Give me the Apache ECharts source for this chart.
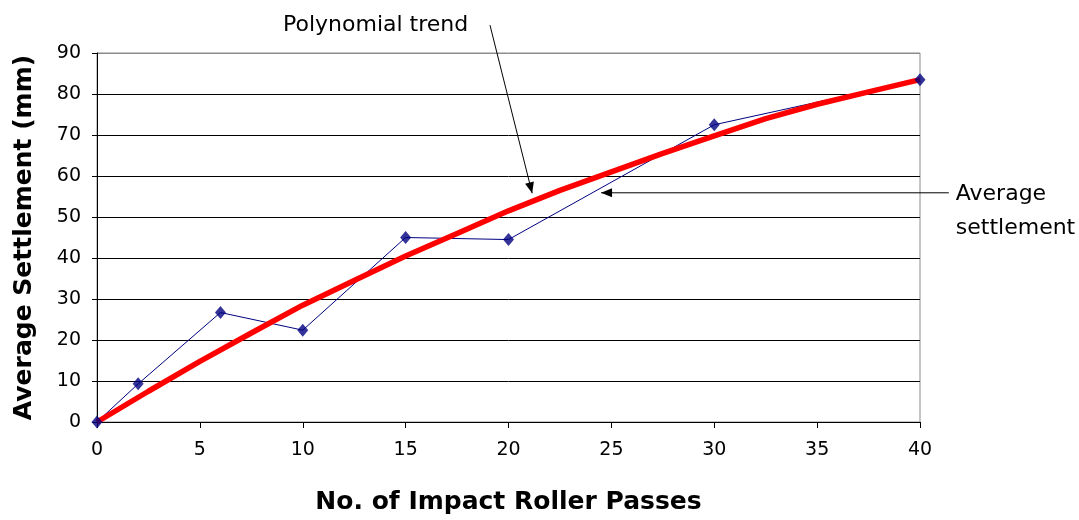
<!DOCTYPE html>
<html><head><meta charset="utf-8">
<script src="https://cdn.jsdelivr.net/npm/echarts@6/dist/echarts.min.js"></script>
<style>html,body{margin:0;padding:0;background:#fff}#c{width:1079px;height:520px}</style>
</head><body><div id="c"></div>
<script>
// Measured data
const passes = [0, 2, 6, 10, 15, 20, 30, 40];
const avgSettlement = [0, 9.3, 26.7, 22.4, 45, 44.5, 72.5, 83.5];
// Polynomial trend
const trendPasses = [0, 2.5, 5, 7.5, 10, 12.5, 15, 17.5, 20, 22.5, 25, 27.5, 30, 32.5, 35, 37.5, 40];
const trendSettlement = [0, 7.5, 14.8, 21.7, 28.5, 34.5, 40.5, 46, 51.5, 56.5, 61, 65.5, 69.8, 74, 77.5, 80.5, 83.5];
// Annotation texts
const polyLabel = "Polynomial trend";
const avgLabel = ["Average", "settlement"];

const FONT = "DejaVu Sans";
const chart = echarts.init(document.getElementById('c'), null, {renderer: 'canvas'});

const measured = passes.map((p, i) => [p, avgSettlement[i]]);
const trend = trendPasses.map((p, i) => [p, trendSettlement[i]]);

chart.setOption({
  animation: false,
  backgroundColor: '#fff',
  grid: {left: 97, right: 159, top: 53, bottom: 98, show: true, borderColor: '#8c8c8c', borderWidth: 1, backgroundColor: 'transparent'},
  xAxis: {
    type: 'value', min: 0, max: 40, interval: 5,
    name: 'No. of Impact Roller Passes', nameLocation: 'middle', nameGap: 68,
    nameTextStyle: {fontFamily: FONT, fontWeight: 'bold', fontSize: 25, color: '#000'},
    axisLine: {show: true, onZero: false, lineStyle: {color: '#000', width: 1}},
    axisTick: {show: true, length: 6, lineStyle: {color: '#000'}},
    axisLabel: {fontFamily: FONT, fontSize: 19, color: '#000', margin: 19},
    splitLine: {show: false}
  },
  yAxis: {
    type: 'value', min: 0, max: 90, interval: 10,
    name: 'Average Settlement (mm)', nameLocation: 'middle', nameGap: 60, nameRotate: 90,
    nameTextStyle: {fontFamily: FONT, fontWeight: 'bold', fontSize: 25, color: '#000'},
    axisLine: {show: true, onZero: false, lineStyle: {color: '#000', width: 1}},
    axisTick: {show: true, length: 5, lineStyle: {color: '#000'}},
    axisLabel: {fontFamily: FONT, fontSize: 19, color: '#000', margin: 16},
    splitLine: {show: true, lineStyle: {color: ['#000','#000','#000','#000','#000','#000','#000','#000','#000','#8c8c8c'], width: 1}}
  },
  series: [
    {type: 'line', data: measured, symbol: 'none', z: 2,
     lineStyle: {color: '#000080', width: 1}},
    {type: 'line', data: trend, symbol: 'none', z: 3,
     lineStyle: {color: '#ff0000', width: 5.5}},
    {type: 'scatter', data: measured, symbol: 'diamond', symbolSize: [11, 13], z: 4,
     itemStyle: {color: '#000080'}}
  ]
});

function px(x, y) { return chart.convertToPixel({gridIndex: 0}, [x, y]); }
const pStart = px(19.1, 96.8), pTip = px(21.15, 55.8);
const aStart = px(41.4, 55.9), aTip = px(24.5, 55.9);
function arrowHead(from, to, len, half) {
  const dx = to[0] - from[0], dy = to[1] - from[1];
  const L = Math.hypot(dx, dy), ux = dx / L, uy = dy / L;
  const bx = to[0] - ux * len, by = to[1] - uy * len;
  return [[to[0], to[1]], [bx - uy * half, by + ux * half], [bx + uy * half, by - ux * half]];
}
chart.setOption({
  graphic: [
    {type: 'line', shape: {x1: pStart[0], y1: pStart[1], x2: pTip[0], y2: pTip[1]}, style: {stroke: '#000', lineWidth: 1}, z: 10},
    {type: 'polygon', shape: {points: arrowHead(pStart, pTip, 11, 4.5)}, style: {fill: '#000'}, z: 10},
    {type: 'line', shape: {x1: aStart[0], y1: aStart[1], x2: aTip[0], y2: aTip[1]}, style: {stroke: '#000', lineWidth: 1}, z: 10},
    {type: 'polygon', shape: {points: arrowHead(aStart, aTip, 11, 4.5)}, style: {fill: '#000'}, z: 10},
    {type: 'text', x: 283, y: 25, style: {text: polyLabel, font: '22px "DejaVu Sans"', fill: '#000', verticalAlign: 'middle'}, z: 10},
    {type: 'text', x: aStart[0] + 7, y: 194, style: {text: avgLabel[0], font: '22px "DejaVu Sans"', fill: '#000', verticalAlign: 'middle'}, z: 10},
    {type: 'text', x: aStart[0] + 7, y: 228, style: {text: avgLabel[1], font: '22px "DejaVu Sans"', fill: '#000', verticalAlign: 'middle'}, z: 10}
  ]
});
</script>
</body></html>
